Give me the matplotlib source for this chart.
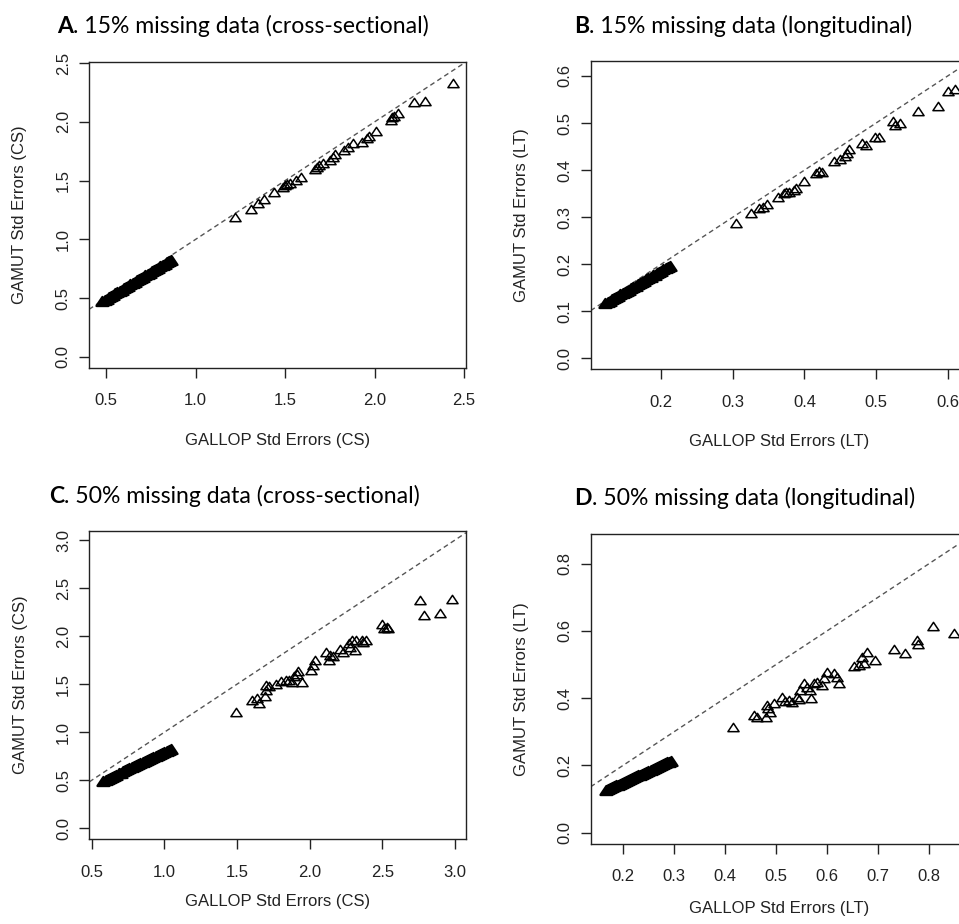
import matplotlib
matplotlib.use("Agg")
import matplotlib.pyplot as plt
from matplotlib.path import Path
from matplotlib.ticker import FormatStrFormatter

W, H = 959, 924

# --- A. 15% missing, cross-sectional ---
a_band_x = [0.480, 0.492, 0.504, 0.516, 0.528, 0.540, 0.552, 0.564, 0.576, 0.588, 0.600,
            0.612, 0.624, 0.636, 0.648, 0.660, 0.672, 0.684, 0.696, 0.708, 0.720, 0.732,
            0.744, 0.756, 0.768, 0.780, 0.792, 0.804, 0.816, 0.828, 0.840, 0.852, 0.862]
a_band_y = [0.475, 0.486, 0.497, 0.508, 0.519, 0.530, 0.541, 0.552, 0.563, 0.574, 0.585,
            0.596, 0.607, 0.618, 0.629, 0.640, 0.651, 0.662, 0.673, 0.684, 0.695, 0.706,
            0.717, 0.728, 0.739, 0.750, 0.761, 0.772, 0.783, 0.794, 0.805, 0.816, 0.825]
a_x = [1.22, 1.31, 1.35, 1.38, 1.44, 1.49, 1.50, 1.51, 1.53, 1.56, 1.59, 1.67, 1.68, 1.69, 1.71, 1.75,
       1.77, 1.78, 1.83, 1.85, 1.88, 1.93, 1.96, 1.97, 2.01, 2.09, 2.10, 2.11, 2.13, 2.22, 2.28, 2.44]
a_y = [1.19, 1.26, 1.31, 1.34, 1.40, 1.45, 1.46, 1.47, 1.48, 1.51, 1.53, 1.60, 1.62, 1.63, 1.65, 1.68,
       1.70, 1.73, 1.76, 1.79, 1.82, 1.83, 1.86, 1.88, 1.92, 2.02, 2.04, 2.05, 2.08, 2.17, 2.18, 2.33]

# --- B. 15% missing, longitudinal ---
b_band_x = [0.122, 0.125, 0.128, 0.131, 0.134, 0.137, 0.140, 0.143, 0.146, 0.149, 0.152,
            0.155, 0.158, 0.161, 0.164, 0.167, 0.170, 0.173, 0.176, 0.179, 0.182, 0.185,
            0.188, 0.191, 0.194, 0.197, 0.200, 0.203, 0.206, 0.209, 0.212]
b_band_y = [0.117, 0.120, 0.122, 0.125, 0.128, 0.130, 0.133, 0.136, 0.138, 0.141, 0.144,
            0.146, 0.149, 0.152, 0.154, 0.157, 0.160, 0.162, 0.165, 0.168, 0.170, 0.173,
            0.176, 0.178, 0.181, 0.184, 0.186, 0.189, 0.192, 0.194, 0.197]
b_x = [0.304, 0.326, 0.336, 0.342, 0.348, 0.363, 0.371, 0.374, 0.378, 0.385, 0.388, 0.399, 0.416,
       0.420, 0.425, 0.441, 0.450, 0.457, 0.460, 0.462, 0.480, 0.486, 0.498, 0.504, 0.523, 0.527,
       0.534, 0.559, 0.586, 0.600, 0.610]
b_y = [0.288, 0.308, 0.319, 0.322, 0.328, 0.342, 0.352, 0.354, 0.354, 0.358, 0.361, 0.377, 0.393,
       0.399, 0.397, 0.420, 0.423, 0.430, 0.436, 0.444, 0.458, 0.453, 0.470, 0.471, 0.505, 0.496,
       0.501, 0.526, 0.536, 0.569, 0.572]

# --- C. 50% missing, cross-sectional ---
c_band_x = [0.580, 0.595, 0.610, 0.625, 0.640, 0.655, 0.670, 0.685, 0.700, 0.715, 0.730,
            0.745, 0.760, 0.775, 0.790, 0.805, 0.820, 0.835, 0.850, 0.865, 0.880, 0.895,
            0.910, 0.925, 0.940, 0.955, 0.970, 0.985, 1.000, 1.015, 1.030, 1.045]
c_band_y = [0.495, 0.506, 0.517, 0.527, 0.538, 0.549, 0.560, 0.571, 0.581, 0.592, 0.603,
            0.614, 0.625, 0.635, 0.646, 0.657, 0.668, 0.679, 0.689, 0.700, 0.711, 0.722,
            0.733, 0.743, 0.754, 0.765, 0.776, 0.787, 0.797, 0.808, 0.819, 0.830]
c_x = [1.49, 1.60, 1.64, 1.65, 1.69, 1.70, 1.70, 1.72, 1.77, 1.80, 1.84, 1.86, 1.88, 1.89, 1.91,
       1.92, 1.95, 2.01, 2.02, 2.04, 2.11, 2.13, 2.14, 2.16, 2.21, 2.23, 2.27, 2.28, 2.29, 2.31,
       2.32, 2.36, 2.37, 2.39, 2.50, 2.51, 2.53, 2.54, 2.76, 2.79, 2.90, 2.98]
c_y = [1.21, 1.34, 1.36, 1.30, 1.38, 1.44, 1.49, 1.48, 1.50, 1.53, 1.54, 1.54, 1.52, 1.59, 1.61,
       1.64, 1.52, 1.65, 1.70, 1.75, 1.83, 1.75, 1.80, 1.79, 1.87, 1.83, 1.93, 1.89, 1.96, 1.86,
       1.96, 1.96, 1.94, 1.96, 2.13, 2.08, 2.10, 2.08, 2.38, 2.22, 2.24, 2.39]

# --- D. 50% missing, longitudinal ---
d_band_x = [0.166, 0.170, 0.174, 0.178, 0.182, 0.186, 0.190, 0.194, 0.198, 0.202, 0.206,
            0.210, 0.214, 0.218, 0.222, 0.226, 0.230, 0.234, 0.238, 0.242, 0.246, 0.250,
            0.254, 0.258, 0.262, 0.266, 0.270, 0.274, 0.278, 0.282, 0.286, 0.290, 0.294]
d_band_y = [0.127, 0.130, 0.132, 0.135, 0.138, 0.141, 0.143, 0.146, 0.149, 0.151, 0.154,
            0.157, 0.160, 0.162, 0.165, 0.168, 0.171, 0.173, 0.176, 0.179, 0.181, 0.184,
            0.187, 0.190, 0.192, 0.195, 0.198, 0.200, 0.203, 0.206, 0.209, 0.211, 0.214]
d_x = [0.416, 0.457, 0.462, 0.481, 0.483, 0.485, 0.488, 0.496, 0.511, 0.518, 0.525, 0.532, 0.542,
       0.545, 0.548, 0.555, 0.561, 0.566, 0.568, 0.575, 0.581, 0.591, 0.594, 0.601, 0.614, 0.620,
       0.624, 0.653, 0.663, 0.668, 0.673, 0.679, 0.695, 0.731, 0.753, 0.777, 0.779, 0.807, 0.849]
d_y = [0.315, 0.350, 0.345, 0.345, 0.380, 0.370, 0.360, 0.385, 0.405, 0.393, 0.395, 0.388, 0.404,
       0.397, 0.424, 0.446, 0.432, 0.424, 0.400, 0.444, 0.449, 0.439, 0.459, 0.479, 0.474, 0.464,
       0.444, 0.496, 0.499, 0.523, 0.506, 0.538, 0.515, 0.545, 0.533, 0.573, 0.561, 0.615, 0.595]

a_xticks = [0.5, 1.0, 1.5, 2.0, 2.5]
a_yticks = [0.0, 0.5, 1.0, 1.5, 2.0, 2.5]
b_xticks = [0.2, 0.3, 0.4, 0.5, 0.6]
b_yticks = [0.0, 0.1, 0.2, 0.3, 0.4, 0.5, 0.6]
c_xticks = [0.5, 1.0, 1.5, 2.0, 2.5, 3.0]
c_yticks = [0.0, 0.5, 1.0, 1.5, 2.0, 2.5, 3.0]
d_xticks = [0.2, 0.3, 0.4, 0.5, 0.6, 0.7, 0.8]
d_yticks = [0.0, 0.2, 0.4, 0.6, 0.8]

# open triangle like R's pch=2 (closed outline, a bit flatter than '^')
TRI = Path([(-1, -0.75), (1, -0.75), (0, 0.75), (-1, -0.75)],
           [Path.MOVETO, Path.LINETO, Path.LINETO, Path.CLOSEPOLY])
INK = "#222222"
TITLE_FONT = "Lato"
AX_FONT = "Liberation Sans"


def panel(fig, box_px, band, pts, xlim, ylim, xticks, yticks, xlabel, ylabel, xlab_off):
    left, top, right, bottom = box_px
    ax = fig.add_axes([left / W, 1 - bottom / H, (right - left) / W, (bottom - top) / H])
    ax.axline((0, 0), slope=1, color="#555555", lw=1.0, dashes=(3.5, 2.5), zorder=1)
    # the bulk of the points overlap so much they read as a solid black band
    ax.plot(band[0], band[1], linestyle="none", marker=TRI, ms=8.5, mfc="black",
            mec="black", mew=1.8, zorder=2)
    ax.plot(pts[0], pts[1], linestyle="none", marker=TRI, ms=8, mfc="none",
            mec="black", mew=1.1, zorder=2)
    ax.set_xlim(*xlim)
    ax.set_ylim(*ylim)
    ax.set_xticks(xticks)
    ax.set_yticks(yticks)
    ax.xaxis.set_major_formatter(FormatStrFormatter("%.1f"))
    ax.yaxis.set_major_formatter(FormatStrFormatter("%.1f"))
    ax.tick_params(direction="out", length=7.2, width=1.0, color=INK, labelcolor=INK,
                   labelsize=12)
    ax.tick_params(axis="x", pad=11)
    ax.tick_params(axis="y", pad=6, labelrotation=90)
    for lbl in ax.get_yticklabels():
        lbl.set_va("center")
        lbl.set_family(AX_FONT)
    for lbl in ax.get_xticklabels():
        lbl.set_family(AX_FONT)
    for s in ax.spines.values():
        s.set_color(INK)
        s.set_linewidth(1.0)
    hgt = bottom - top
    wid = right - left
    ax.set_xlabel(xlabel, fontsize=12, family=AX_FONT, color=INK, va="center")
    ax.xaxis.set_label_coords(0.5, -xlab_off / hgt)
    ax.set_ylabel(ylabel, fontsize=12, family=AX_FONT, color=INK, va="center")
    ax.yaxis.set_label_coords(-69 / wid, 0.5)
    return ax


def title(fig, x, y, letter, rest):
    r = fig.canvas.get_renderer()
    t = fig.text(x / W, 1 - y / H, letter, fontsize=16.6, fontweight="bold",
                 family=TITLE_FONT, va="baseline", ha="left")
    bb = t.get_window_extent(renderer=r)
    fig.text(bb.x1 / W, 1 - y / H, rest, fontsize=16.6, family=TITLE_FONT,
             va="baseline", ha="left")


fig = plt.figure(figsize=(W / 100, H / 100), dpi=100)

panel(fig, (89, 62, 466, 368), (a_band_x, a_band_y), (a_x, a_y),
      (0.405, 2.511), (-0.094, 2.51), a_xticks, a_yticks,
      "GALLOP Std Errors (CS)", "GAMUT Std Errors (CS)", 72)
panel(fig, (590.7, 60.7, 967.7, 369.3), (b_band_x, b_band_y), (b_x, b_y),
      (0.1014, 0.628), (-0.0234, 0.6325), b_xticks, b_yticks,
      "GALLOP Std Errors (LT)", "GAMUT Std Errors (LT)", 72)
panel(fig, (89.3, 530.7, 466, 839.3), (c_band_x, c_band_y), (c_x, c_y),
      (0.4835, 3.0757), (-0.114, 3.097), c_xticks, c_yticks,
      "GALLOP Std Errors (CS)", "GAMUT Std Errors (CS)", 62)
panel(fig, (590.7, 534.3, 967.7, 844), (d_band_x, d_band_y), (d_x, d_y),
      (0.1367, 0.876), (-0.0336, 0.8875), d_xticks, d_yticks,
      "GALLOP Std Errors (LT)", "GAMUT Std Errors (LT)", 64)

title(fig, 57, 33, "A", ". 15% missing data (cross-sectional)")
title(fig, 574, 33, "B", ". 15% missing data (longitudinal)")
title(fig, 49, 503, "C", ". 50% missing data (cross-sectional)")
title(fig, 574, 505, "D", ". 50% missing data (longitudinal)")

fig.savefig("out.png", dpi=100)
